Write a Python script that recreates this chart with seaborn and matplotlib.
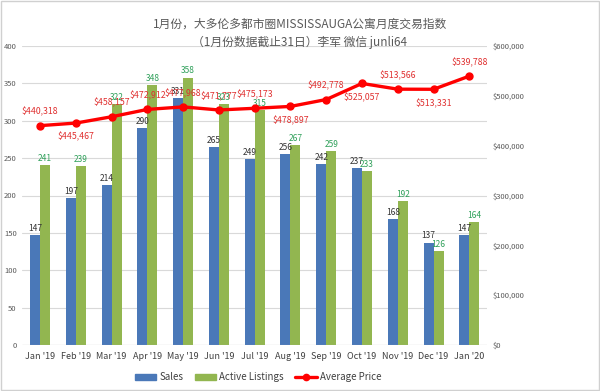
import numpy as np
import pandas as pd
import matplotlib
matplotlib.use("Agg")
import matplotlib.pyplot as plt
import seaborn as sns
from matplotlib.lines import Line2D
from matplotlib.patches import Patch

months = ["Jan '19", "Feb '19", "Mar '19", "Apr '19", "May '19", "Jun '19", "Jul '19",
          "Aug '19", "Sep '19", "Oct '19", "Nov '19", "Dec '19", "Jan '20"]
sales = [147, 197, 214, 290, 331, 265, 249, 256, 242, 237, 168, 137, 147]
listings = [241, 239, 322, 348, 358, 323, 315, 267, 259, 233, 192, 126, 164]
avg_price = [440318, 445467, 458157, 472912, 477968, 471777, 475173,
             478897, 492778, 525057, 513566, 513331, 539788]
# label above (1) or below (-1) the point
price_label_side = [1, -1, 1, 1, 1, 1, 1, -1, 1, -1, 1, -1, 1]

title = "1月份，大多伦多都市圈MISSISSAUGA公寓月度交易指数\n（1月份数据截止31日）李军 微信 junli64"

sns.set_style("white")
plt.rcParams['font.family'] = ['Noto Sans CJK SC', 'DejaVu Sans']

blue = "#4a78b8"
green = "#92b650"
red = "#ff0000"
gray = "#595959"

df = pd.DataFrame({"month": months * 2,
                   "value": sales + listings,
                   "series": ["Sales"] * len(months) + ["Active Listings"] * len(months)})

fig = plt.figure(figsize=(6, 3.91), dpi=100)
fig.patches.append(plt.Rectangle((0.002, 0.002), 0.996, 0.996, transform=fig.transFigure,
                                 fill=False, edgecolor="#d0d0d0", lw=1))
ax = fig.add_axes([0.037, 0.118, 0.775, 0.764])

sns.barplot(data=df, x="month", y="value", hue="series", palette=[blue, green],
            width=0.56, ax=ax, legend=False, saturation=1, linewidth=0)
ax.set_ylim(0, 400)
ax.set_yticks(range(0, 401, 50))
ax.set_xlim(-0.5, len(months) - 0.5)
ax.grid(axis="y", color="#d9d9d9", lw=0.8)
ax.set_axisbelow(True)
for s in ax.spines.values():
    s.set_visible(False)
ax.set_xlabel("")
ax.set_ylabel("")
ax.tick_params(axis="y", labelsize=5.5, colors=gray, length=0, pad=4)
ax.tick_params(axis="x", labelsize=6.5, colors="#404040", length=0, pad=5)
ax.axhline(0, color="#bfbfbf", lw=0.8)

for cont, col in zip(ax.containers, ["#333333", "#2fa05a"]):
    ax.bar_label(cont, fontsize=6, color=col, padding=1.5)

ax2 = ax.twinx()
ax2.plot(range(len(months)), avg_price, color=red, lw=2.4, marker="o", markersize=5,
         solid_capstyle="round", zorder=5)
ax2.set_ylim(0, 600000)
ax2.set_yticks(range(0, 600001, 100000))
ax2.set_yticklabels(["$0"] + [f"${v:,}" for v in range(100000, 600001, 100000)])
ax2.tick_params(axis="y", labelsize=5.5, colors=gray, length=0, pad=4)
for s in ax2.spines.values():
    s.set_visible(False)
for i, (p, side) in enumerate(zip(avg_price, price_label_side)):
    ax2.annotate(f"${p:,}", (i, p), xytext=(0, 6.5 * side), textcoords="offset points",
                 ha="center", va="bottom" if side > 0 else "top",
                 fontsize=6.3, color="#e03030")

fig.text(0.5, 0.955, title, ha="center", va="top", fontsize=8.5, color=gray, linespacing=1.5)

handles = [Patch(color=blue, label="Sales"), Patch(color=green, label="Active Listings"),
           Line2D([0], [0], color=red, lw=2.4, marker="o", markersize=4.5, label="Average Price")]
fig.legend(handles=handles, loc="center", bbox_to_anchor=(0.43, 0.035), ncol=3, frameon=False,
           fontsize=7, handlelength=2.2, handletextpad=0.3, columnspacing=1.2, labelcolor="#404040")

fig.savefig("out.png", dpi=100)
